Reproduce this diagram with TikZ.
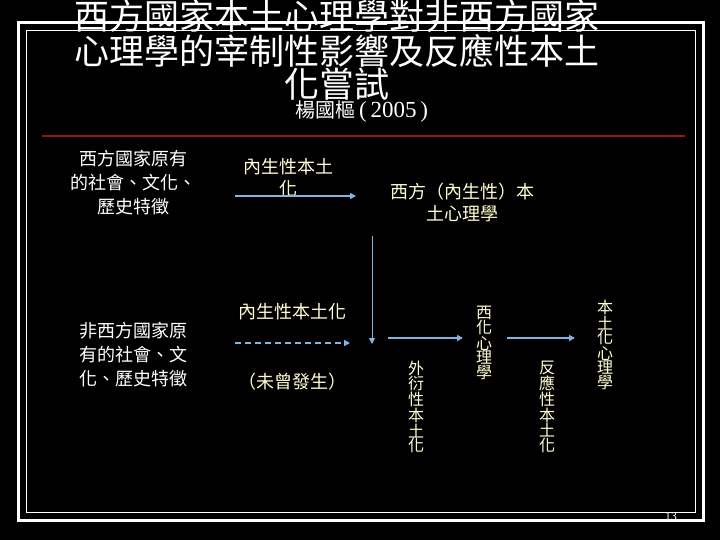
\documentclass[tikz,border=0pt]{standalone}
\usepackage{fontspec}
\setmainfont{Noto Sans CJK TC}
\newfontfamily\timesf{Liberation Serif}
\usetikzlibrary{arrows.meta}
\definecolor{ly}{HTML}{FFFFCC}
\definecolor{ab}{HTML}{7EB6E6}
\definecolor{rl}{HTML}{A01010}
\tikzset{
 yt/.style={text=ly,font=\fontsize{18}{22}\selectfont,align=center,inner sep=0pt},
 wt/.style={text=white,font=\fontsize{18}{24}\selectfont,align=center,inner sep=0pt},
 vt/.style={text=ly,font=\fontsize{16}{13}\selectfont,align=center,inner sep=0pt},
 arr/.style={ab,line width=1.6pt,-{Triangle[length=6pt,width=6pt]}}
}
\begin{document}
\begin{tikzpicture}[x=1pt,y=-1pt]
\fill[black] (0,0) rectangle (720,540);
\useasboundingbox (0,0) rectangle (720,540);
\draw[white,line width=3pt] (18,23) rectangle (703,520);
\draw[white,line width=1pt] (26,31) rectangle (695,512);
\node[text=white,font=\fontsize{35}{33}\selectfont,align=center,inner sep=0pt] (title) at (337,50) {西方國家本土心理學對非西方國家\\心理學的宰制性影響及反應性本土\\化嘗試};
\node[text=white,font=\fontsize{20}{22}\selectfont,inner sep=0pt] (auth) at (362,112) {楊國樞\,{\timesf\fontsize{23}{24}\selectfont (\,2005\,)}};
\draw[rl,line width=1.2pt] (42,136) -- (685,136);
\node[wt] (w1) at (133,183) {西方國家原有\\的社會、文化、\\歷史特徵};
\node[wt] (w2) at (133,355) {非西方國家原\\有的社會、文\\化、歷史特徵};
\node[yt] (t1) at (288,178) {內生性本土\\化};
\node[yt] (t2) at (462,202) {西方（內生性）本\\土心理學};
\node[yt] (t3) at (292,312) {內生性本土化};
\node[yt] (t4) at (292,382) {（未曾發生）};
\coordinate (a1s) at (235,196); \coordinate (a1e) at (356,196);
\draw[arr] (a1s) -- (a1e);
\coordinate (d1s) at (235,343); \coordinate (d1e) at (350,343);
\draw[arr,dash pattern=on 6pt off 4pt] (d1s) -- (d1e);
\coordinate (vs) at (372,236); \coordinate (ve) at (372,344);
\draw[ab,line width=1pt,-{Triangle[length=6pt,width=6pt]}] (vs) -- (ve);
\coordinate (a2s) at (388,338); \coordinate (a2e) at (463,338);
\draw[arr] (a2s) -- (a2e);
\coordinate (a3s) at (507,338); \coordinate (a3e) at (575,338);
\draw[arr] (a3s) -- (a3e);
\node[vt] (v1) at (416,407) {外\\衍\\性\\本\\土\\化};
\node[vt] (v2) at (484,343) {西\\化\\心\\理\\學};
\node[vt] (v3) at (547,407) {反\\應\\性\\本\\土\\化};
\node[vt] (v4) at (605,345) {本\\土\\化\\心\\理\\學};
\node[text=white,font=\sffamily\fontsize{12}{12}\selectfont,inner sep=0pt] (pg) at (671,517) {13};
\end{tikzpicture}
\end{document}
